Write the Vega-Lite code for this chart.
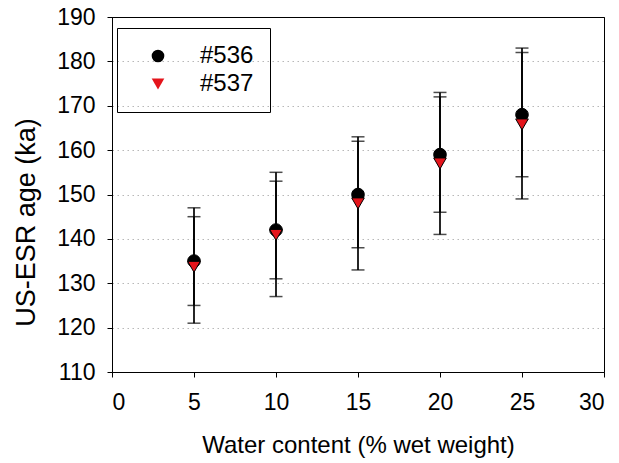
{
  "$schema": "https://vega.github.io/schema/vega-lite/v6.json",
  "width": 492,
  "height": 355,
  "autosize": "none",
  "padding": {"left": 112, "top": 17, "right": 15, "bottom": 91},
  "background": "white",
  "config": {
    "font": "Liberation Sans",
    "view": {"stroke": "black", "strokeWidth": 1},
    "axis": {
      "domainColor": "black",
      "tickColor": "black",
      "labelColor": "black",
      "titleColor": "black",
      "labelFont": "Liberation Sans",
      "titleFont": "Liberation Sans",
      "labelFontSize": 23,
      "titleFontSize": 24,
      "titleFontWeight": "normal",
      "tickSize": 5,
      "labelPadding": 12
    },
    "legend": {
      "orient": "none",
      "legendX": 5,
      "legendY": 11,
      "title": null,
      "strokeColor": "black",
      "padding": 16,
      "rowPadding": 4,
      "symbolOffset": 13,
      "labelOffset": 30,
      "labelFont": "Liberation Sans",
      "labelFontSize": 24,
      "labelColor": "black",
      "symbolSize": 160,
      "symbolStrokeColor": "black",
      "symbolStrokeWidth": 1
    }
  },
  "data": {
    "values": [
      {"x": 5, "series": "#536", "val": 135, "hi": 147, "lo": 125},
      {"x": 10, "series": "#536", "val": 142, "hi": 155, "lo": 131},
      {"x": 15, "series": "#536", "val": 150, "hi": 163, "lo": 138},
      {"x": 20, "series": "#536", "val": 159, "hi": 173, "lo": 146},
      {"x": 25, "series": "#536", "val": 168, "hi": 183, "lo": 154},
      {"x": 5, "series": "#537", "val": 133.7, "hi": 145, "lo": 121},
      {"x": 10, "series": "#537", "val": 140.9, "hi": 153, "lo": 127},
      {"x": 15, "series": "#537", "val": 148, "hi": 162, "lo": 133},
      {"x": 20, "series": "#537", "val": 157, "hi": 172, "lo": 141},
      {"x": 25, "series": "#537", "val": 165.8, "hi": 182, "lo": 149}
    ]
  },
  "encoding": {
    "x": {
      "field": "x",
      "type": "quantitative",
      "scale": {"domain": [0, 30], "nice": false},
      "axis": {
        "values": [0, 5, 10, 15, 20, 25, 30],
        "grid": false,
        "labelPadding": 14,
        "title": "Water content (% wet weight)",
        "titlePadding": 19
      }
    }
  },
  "layer": [
    {
      "mark": {"type": "rule", "color": "black", "strokeWidth": 1.7},
      "encoding": {
        "y": {
          "field": "lo",
          "type": "quantitative",
          "scale": {"domain": [110, 190], "nice": false, "zero": false},
          "axis": {
            "values": [110, 120, 130, 140, 150, 160, 170, 180, 190],
            "grid": true,
            "gridColor": {"condition": {"test": "datum.value >= 190", "value": "black"}, "value": "#b8b8b8"},
            "gridDash": {"condition": {"test": "datum.value >= 190", "value": []}, "value": [1.5, 3.5]},
            "gridWidth": 1.2,
            "title": "US-ESR age (ka)",
            "titleFontSize": 27,
            "titleY": 205,
            "titlePadding": 16
          }
        },
        "y2": {"field": "hi"}
      }
    },
    {
      "transform": [{"fold": ["lo", "hi"], "as": ["end", "cap"]}],
      "mark": {"type": "tick", "orient": "horizontal", "size": 13, "thickness": 1.5, "color": "black"},
      "encoding": {
        "y": {"field": "cap", "type": "quantitative", "title": "US-ESR age (ka)"}
      }
    },
    {
      "mark": {"type": "point", "filled": true, "size": 160, "strokeWidth": 1, "opacity": 1},
      "encoding": {
        "y": {"field": "val", "type": "quantitative", "title": "US-ESR age (ka)"},
        "shape": {
          "field": "series",
          "type": "nominal",
          "scale": {"domain": ["#536", "#537"], "range": ["circle", "triangle-down"]}
        },
        "fill": {
          "field": "series",
          "type": "nominal",
          "scale": {"domain": ["#536", "#537"], "range": ["black", "#e4141b"]}
        },
        "stroke": {"value": "black"}
      }
    }
  ]
}
